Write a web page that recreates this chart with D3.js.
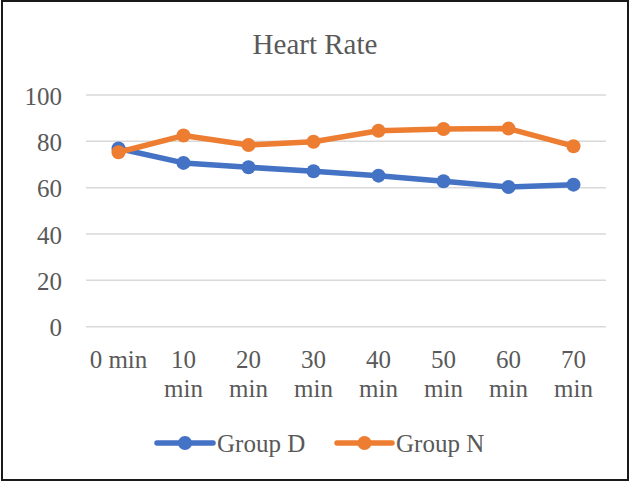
<!DOCTYPE html>
<html>
<head>
<meta charset="utf-8">
<script src="https://cdn.jsdelivr.net/npm/d3@7"></script>
<style>
  html, body { margin: 0; padding: 0; background: #fff; }
  svg { display: block; }
  text { font-family: "Liberation Serif", "Times New Roman", serif; fill: #595959; }
</style>
</head>
<body>
<svg id="chart" width="630" height="482"></svg>
<script>
// Heart rate readings per time point
const categories = ["0 min", "10 min", "20 min", "30 min", "40 min", "50 min", "60 min", "70 min"];
const groupD = [76.9, 70.7, 68.8, 67.1, 65.2, 62.8, 60.3, 61.3];
const groupN = [75.3, 82.5, 78.4, 79.8, 84.6, 85.3, 85.5, 77.9];
const yTicks = [0, 20, 40, 60, 80, 100];
const seriesNames = ["Group D", "Group N"];
const seriesColors = ["#4472C4", "#ED7D31"];

const W = 630, H = 482;
const plot = { left: 86, right: 606, top: 95, bottom: 326.7 };

const svg = d3.select("#chart");

// outer frame
svg.append("rect")
  .attr("x", 2).attr("y", 1)
  .attr("width", W - 4).attr("height", H - 3)
  .attr("fill", "#fff").attr("stroke", "#1a1a1a").attr("stroke-width", 2);

// title
svg.append("text")
  .attr("x", W / 2).attr("y", 54)
  .attr("text-anchor", "middle")
  .style("font-size", "29px")
  .text("Heart Rate");

const x = d3.scaleBand().domain(categories).range([plot.left, plot.right]).padding(0);
const y = d3.scaleLinear().domain([0, 100]).range([plot.bottom, plot.top]);
const cx = c => x(c) + x.bandwidth() / 2;

// horizontal gridlines
svg.append("g").selectAll("line").data(yTicks).join("line")
  .attr("x1", plot.left).attr("x2", plot.right)
  .attr("y1", d => y(d)).attr("y2", d => y(d))
  .attr("stroke", "#D9D9D9").attr("stroke-width", 1.5);

// y axis labels
const yAxis = d3.axisLeft(y).tickValues(yTicks).tickSize(0).tickPadding(0);
const gy = svg.append("g").attr("transform", `translate(62,0)`).call(yAxis);
gy.select(".domain").remove();
gy.selectAll("text")
  .attr("x", 0).attr("dy", "0.36em")
  .style("font-size", "25px")
  .style("font-family", "'Liberation Serif', 'Times New Roman', serif")
  .attr("fill", "#595959");

// x axis labels, wrapped when wider than a category slot
const xAxis = d3.axisBottom(x).tickSize(0).tickPadding(0);
const gx = svg.append("g").attr("transform", `translate(0,0)`).call(xAxis);
gx.select(".domain").remove();
gx.selectAll("text").each(function(d) {
  const t = d3.select(this);
  t.text(null).attr("y", 368).attr("dy", null)
    .style("font-size", "25px")
    .style("font-family", "'Liberation Serif', 'Times New Roman', serif")
    .attr("fill", "#595959");
  const probe = t.append("tspan").text(d);
  const wide = probe.node().getComputedTextLength() > x.bandwidth() - 2;
  probe.remove();
  const lines = wide ? d.split(" ") : [d];
  lines.forEach((ln, i) => {
    t.append("tspan").attr("x", 0).attr("y", 368 + i * 28.5).text(ln);
  });
});

// series lines and markers
const series = [groupD, groupN];
const line = d3.line().x((d, i) => cx(categories[i])).y(d => y(d));

series.forEach((vals, si) => {
  const g = svg.append("g");
  g.append("path")
    .datum(vals)
    .attr("d", line)
    .attr("fill", "none")
    .attr("stroke", seriesColors[si])
    .attr("stroke-width", 5.5)
    .attr("stroke-linejoin", "round")
    .attr("stroke-linecap", "round");
  g.selectAll("circle").data(vals).join("circle")
    .attr("cx", (d, i) => cx(categories[i]))
    .attr("cy", d => y(d))
    .attr("r", 7)
    .attr("fill", seriesColors[si]);
});

// legend
const legendItems = [
  { x0: 157, x1: 213, tx: 217 },
  { x0: 337, x1: 392, tx: 396 }
];
const lg = svg.append("g");
legendItems.forEach((it, i) => {
  lg.append("line")
    .attr("x1", it.x0).attr("x2", it.x1)
    .attr("y1", 443).attr("y2", 443)
    .attr("stroke", seriesColors[i]).attr("stroke-width", 5.5)
    .attr("stroke-linecap", "round");
  lg.append("circle")
    .attr("cx", (it.x0 + it.x1) / 2).attr("cy", 443).attr("r", 7)
    .attr("fill", seriesColors[i]);
  lg.append("text")
    .attr("x", it.tx).attr("y", 452)
    .style("font-size", "25px")
    .text(seriesNames[i]);
});
</script>
</body>
</html>
